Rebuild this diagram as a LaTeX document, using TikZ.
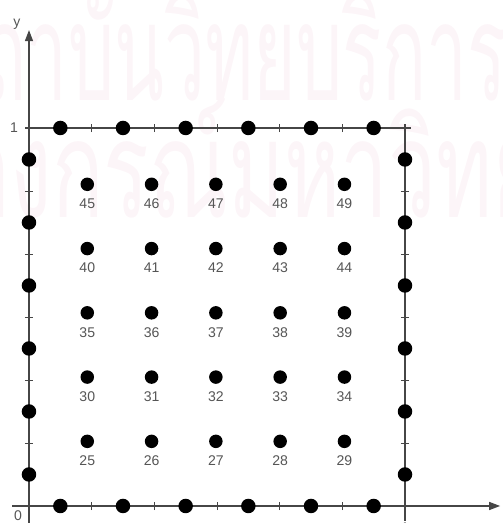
\documentclass[tikz,border=0pt]{standalone}
\usepackage{fontspec}
\setsansfont{Liberation Sans}
\newfontfamily\thaifont[Script=Thai]{Loma}
\usetikzlibrary{positioning, arrows.meta}
\definecolor{wmark}{RGB}{252,245,248}
\definecolor{axgray}{RGB}{70,70,70}
\definecolor{numgray}{RGB}{85,85,85}

\begin{document}
\begin{tikzpicture}[
    x=7.52cm, y=7.56cm,
    ax/.style={draw=axgray, line width=0.8pt},
    arr/.style={-{Triangle[length=0.22cm, width=0.16cm]}, ax},
    edgept/.style={circle, fill=black, inner sep=0pt, minimum size=0.29cm},
    innerpt/.style={circle, fill=black, inner sep=0pt, minimum size=0.27cm},
    num/.style={inner sep=0pt, text=numgray, font=\sffamily\fontsize{8pt}{8pt}\selectfont},
    wm/.style={inner sep=0pt, text=wmark, font=\thaifont\fontsize{77pt}{77pt}\selectfont}
]
    \useasboundingbox (-0.0771, -0.0450) rectangle (1.2606, 1.3386);

    % watermark
    \node[wm, xscale=0.54, anchor=base west] (wm1) at (-0.242, 1.074) {สถาบันวิทยบริการ};
    \node[wm, xscale=0.63, anchor=base west] (wm2) at (-0.604, 0.762) {จุฬาลงกรณ์มหาวิทยาลัย};

    % axes
    \coordinate (xs) at (-0.045, 0);
    \coordinate (xe) at (1.253, 0);
    \coordinate (ys) at (0, -0.045);
    \coordinate (ye) at (0, 1.259);
    \draw[arr] (xs) -- (xe);
    \draw[arr] (ys) -- (ye);

    % square
    \coordinate (tl) at (-0.01, 1);
    \coordinate (tr) at (1.015, 1);
    \coordinate (rt) at (1, 1.01);
    \coordinate (rb) at (1, -0.04);
    \draw[ax] (tl) -- (tr);
    \draw[ax] (rt) -- (rb);

    % ticks
    \foreach \k in {1,...,6} {
        \draw[ax, line width=0.5pt] (\k/6, -0.011) -- (\k/6, 0.011);
    }
    \foreach \k in {1,...,5} {
        \draw[ax, line width=0.5pt] (\k/6, 0.989) -- (\k/6, 1.011);
        \draw[ax, line width=0.5pt] (-0.011, \k/6) -- (0.011, \k/6);
        \draw[ax, line width=0.5pt] (0.989, \k/6) -- (1.011, \k/6);
    }

    % points on the boundary
    \foreach \k in {1,...,6} {
        \node[edgept] (b\k) at ({(2*\k-1)/12}, 0) {};
        \node[edgept] (t\k) at ({(2*\k-1)/12}, 1) {};
        \node[edgept] (l\k) at (0, {(2*\k-1)/12}) {};
        \node[edgept] (r\k) at (1, {(2*\k-1)/12}) {};
    }

    % inner points
    \foreach \j in {0,...,4} {
        \foreach \i in {0,...,4} {
            \pgfmathtruncatemacro{\n}{25+5*\j+\i}
            \node[innerpt] (p\n) at ({0.155+0.171*\i}, {0.171+0.170*\j}) {};
            \node[num, below=0.14cm of p\n] (n\n) {\n};
        }
    }

    \node[num] (ylab) at (-0.032, 1.275) {y};
    \node[num] (zero) at (-0.029, -0.026) {0};
    \node[num] (one) at (-0.040, 1.0) {1};
    \node[num] (onex) at (1, -0.058) {1};
\end{tikzpicture}
\end{document}
